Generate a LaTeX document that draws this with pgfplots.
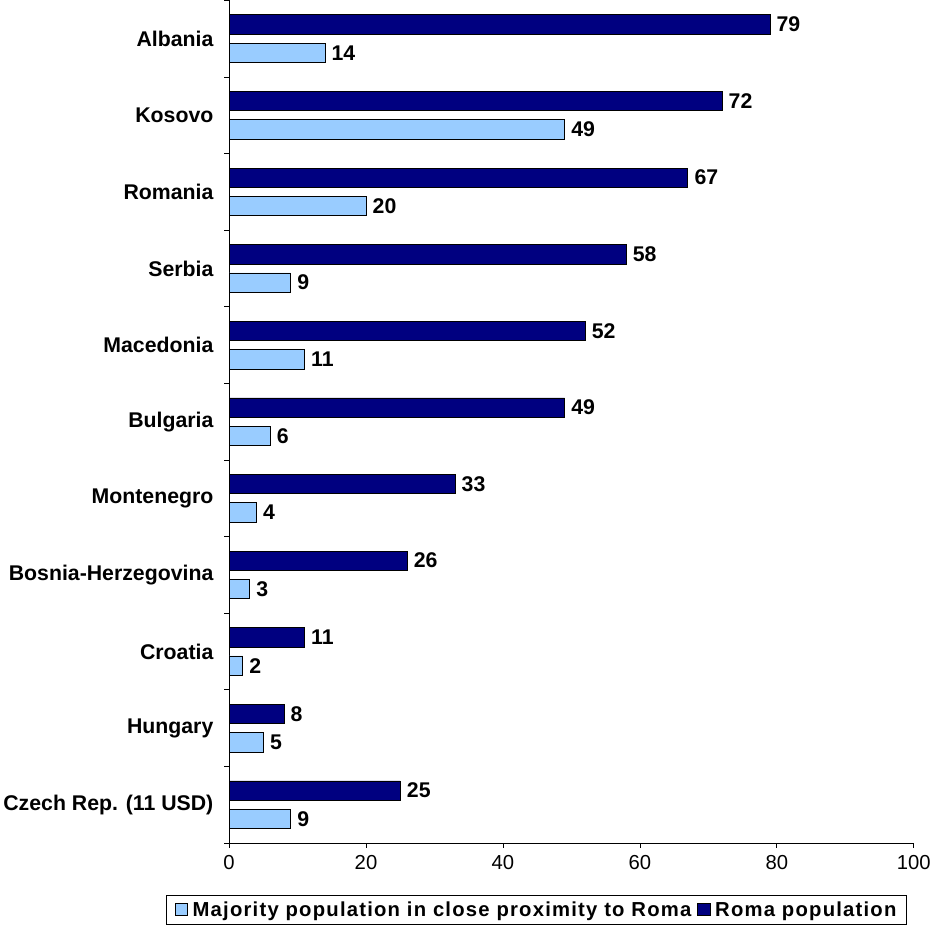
\documentclass[border=0pt]{standalone}
\usepackage{fontspec}
\setmainfont{Liberation Sans}
\newfontfamily\legfont[LetterSpace=6]{Liberation Sans}
\usepackage{pgfplots}
\pgfplotsset{compat=1.18}
\definecolor{roma}{RGB}{0,0,128}
\definecolor{maj}{RGB}{153,204,255}
\begin{document}
\begin{tikzpicture}
\begin{axis}[
  scale only axis, width=676pt, height=832pt,
  xbar, bar width=19pt,
  xmin=0, xmax=100, ymin=-0.5, ymax=10.5,
  axis lines*=left,
  axis line style={black, line width=0.6pt},
  xtick={0,20,...,100},
  ytick={0,...,10},
  yticklabels={Czech Rep. (11 USD),Hungary,Croatia,Bosnia-Herzegovina,Montenegro,Bulgaria,Macedonia,Serbia,Romania,Kosovo,Albania},
  major y tick style={draw=none},
  minor ytick={-0.5,0.5,1.5,2.5,3.5,4.5,5.5,6.5,7.5,8.5,9.5,10.5},
  tick align=outside,
  major tick length=5pt, minor tick length=5pt,
  tick style={black, line width=0.6pt},
  yticklabel style={font=\bfseries\fontsize{21}{24}\selectfont, xshift=-7pt},
  xticklabel style={font=\fontsize{20}{23}\selectfont, yshift=-4pt},
  /pgf/number format/assume math mode=true,
  nodes near coords,
  nodes near coords style={font=\bfseries\fontsize{21}{24}\selectfont, anchor=west, black, xshift=3pt},
  legend style={at={(0.99,-0.062)}, anchor=north east, legend columns=2,
    font=\legfont\bfseries\fontsize{20}{23}\selectfont, draw=black, line width=0.6pt,
    inner xsep=8pt, inner ysep=4pt,
    /tikz/every even column/.append style={column sep=4pt}},
  legend image code/.code={\draw[#1, line width=0.6pt] (0pt,-6pt) rectangle (12pt,6pt);
    \path (0pt,0pt) (15pt,0pt);},
]
\addplot[fill=maj, draw=black, line width=0.6pt, bar shift=-14pt] coordinates {
(9,0) (5,1) (2,2) (3,3) (4,4) (6,5) (11,6) (9,7) (20,8) (49,9) (14,10)};
\addlegendentry{Majority population in close proximity to Roma}
\addplot[fill=roma, draw=black, line width=0.6pt, bar shift=14pt] coordinates {
(25,0) (8,1) (11,2) (26,3) (33,4) (49,5) (52,6) (58,7) (67,8) (72,9) (79,10)};
\addlegendentry{Roma population}
\end{axis}
\end{tikzpicture}
\end{document}
